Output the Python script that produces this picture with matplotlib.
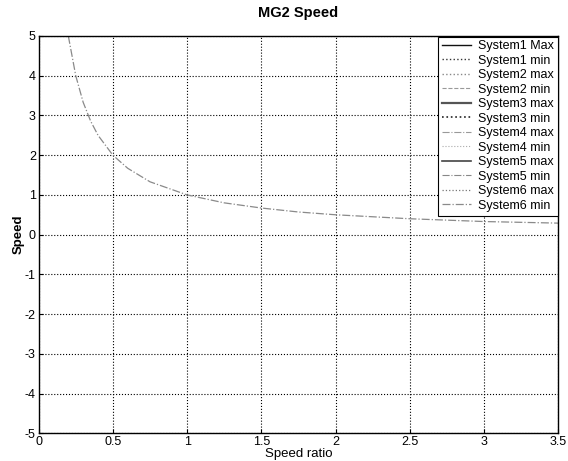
import matplotlib
matplotlib.use("Agg")
import matplotlib.pyplot as plt

plt.rcParams['font.family'] = ['Liberation Sans', 'DejaVu Sans']
plt.rcParams['axes.unicode_minus'] = False

# speed ratio vs MG2 speed
ratio = [0.2, 0.25, 0.3, 0.35, 0.4, 0.5, 0.6, 0.75, 1.0, 1.25, 1.5, 1.75, 2.0, 2.5, 3.0, 3.5]
speed = [5.0, 4.0, 3.33, 2.86, 2.5, 2.0, 1.67, 1.33, 1.0, 0.8, 0.67, 0.57, 0.5, 0.4, 0.33, 0.29]

labels = ['System1 Max', 'System1 min', 'System2 max', 'System2 min',
          'System3 max', 'System3 min', 'System4 max', 'System4 min',
          'System5 max', 'System5 min', 'System6 max', 'System6 min']
styles = [('-', '#111111', 1.0), (':', '#333333', 1.0), (':', '#888888', 1.0), ('--', '#999999', 0.8),
          ('-', '#555555', 1.6), (':', '#222222', 1.2), ('-.', '#999999', 0.8), (':', '#aaaaaa', 0.8),
          ('-', '#444444', 1.2), ('-.', '#888888', 0.8), (':', '#777777', 0.9), ('-.', '#888888', 0.9)]

fig = plt.figure(figsize=(5.68, 4.61), dpi=100)
ax = fig.add_axes([0.068, 0.06, 0.915, 0.862])

for lab, (ls, c, lw) in zip(labels, styles):
    if lab == 'System6 min':
        ax.plot(ratio, speed, ls, color='#8a8a8a', lw=0.9, label=lab)
    else:
        ax.plot([], [], ls, color=c, lw=lw, label=lab)

ax.set_xlim(0, 3.5)
ax.set_ylim(-5, 5)
ax.set_xticks([0, 0.5, 1, 1.5, 2, 2.5, 3, 3.5])
ax.set_xticklabels(['0', '0.5', '1', '1.5', '2', '2.5', '3', '3.5'])
ax.set_yticks(range(-5, 6))
ax.grid(True, linestyle=':', color='black', lw=0.8)
ax.tick_params(direction='in', labelsize=9, length=3, pad=2)
for s in ax.spines.values():
    s.set_linewidth(1.0)

ax.set_title('MG2 Speed', fontsize=10.5, fontweight='bold', pad=14)
ax.set_xlabel('Speed ratio', fontsize=9.5, labelpad=0)
ax.set_ylabel('Speed', fontsize=9.5, fontweight='bold', labelpad=0)

leg = ax.legend(loc='upper right', fontsize=9, frameon=True, fancybox=False,
                borderaxespad=0.05, handlelength=2.3, labelspacing=0.2,
                borderpad=0.3, handletextpad=0.6)
leg.get_frame().set_edgecolor('black')
leg.get_frame().set_linewidth(0.8)
leg.get_frame().set_alpha(1)

fig.savefig('out.png', dpi=100)
